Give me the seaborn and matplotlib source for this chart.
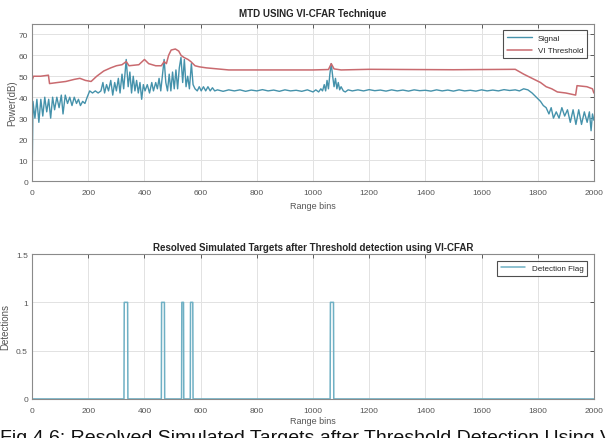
import numpy as np
import pandas as pd
import matplotlib
matplotlib.use("Agg")
import matplotlib.pyplot as plt
import seaborn as sns

# ---------------- data ----------------
signal_x = [0, 3, 10, 17, 24, 31, 38, 45, 52, 59, 66, 73, 80, 88, 96, 104, 110, 118, 126, 134,
            142, 150, 158, 165, 172, 180, 188, 196, 205, 215, 225, 235, 245, 252, 258, 265, 272,
            280, 287, 294, 300, 307, 313, 320, 326, 335, 342, 348, 354, 360, 366, 372, 378, 384,
            390, 396, 402, 410, 418, 426, 432, 440, 446, 452, 458, 465, 470, 476, 482, 488, 494,
            500, 506, 512, 518, 524, 530, 536, 542, 548, 554, 560, 567, 573, 580, 588, 595, 602,
            610, 618, 626, 634, 642, 650, 660, 680, 700, 720, 740, 760, 780, 800, 820, 840, 860,
            880, 900, 920, 940, 960, 980, 1000, 1010, 1020, 1028, 1034, 1040, 1045, 1050, 1055,
            1060, 1065, 1070, 1075, 1080, 1085, 1090, 1095, 1100, 1108, 1115, 1125, 1140, 1160,
            1180, 1200, 1220, 1240, 1260, 1280, 1300, 1320, 1340, 1360, 1380, 1400, 1420, 1440,
            1460, 1480, 1500, 1520, 1540, 1560, 1580, 1600, 1620, 1640, 1660, 1680, 1700, 1720,
            1735, 1750, 1765, 1780, 1795, 1810, 1820, 1830, 1840, 1848, 1856, 1866, 1876, 1886,
            1896, 1906, 1916, 1926, 1936, 1946, 1956, 1966, 1976, 1984, 1990, 1995, 2000]
signal_y = [0, 38, 30, 39, 28, 39, 31, 40, 33, 39, 30, 40, 34, 40, 35, 41, 32, 41, 37, 40,
            36, 40, 37, 39, 36, 38, 37, 40, 43, 42, 43, 42, 43, 47, 42, 46, 43,
            48, 41, 47, 43, 49, 42, 51, 44, 58, 45, 52, 42, 50, 43, 48, 42, 47,
            39, 46, 43, 46, 42, 47, 43, 47, 44, 49, 43, 52, 58, 47, 43, 51, 43,
            52, 44, 53, 44, 54, 59, 47, 58, 45, 50, 44, 56, 46, 44, 43, 45, 43,
            45, 43, 45, 43, 44.5, 43, 43.5, 42.8, 43.5, 43, 43.5, 42.8, 43.4, 43, 43.6, 43, 43.4,
            42.8, 43.5, 43, 43.3, 42.8, 43.5, 42.5, 43.5, 42.5, 44, 43, 46, 43, 48, 44,
            51, 56, 50, 45, 49, 44, 47, 43.5, 45, 43, 42.5, 43.5, 43, 43.5,
            43, 43.6, 43.1, 43.4, 42.9, 43.5, 43, 43.4, 42.9, 43.5, 43.1, 43.3, 42.9, 43.5,
            43, 43.4, 42.9, 43.5, 43, 43.3, 42.9, 43.5, 43, 43.4, 43, 43.6, 43.2, 43.5,
            43, 44, 43.5, 42, 40, 38, 36, 35, 32, 35, 30, 33, 30, 35,
            31, 34, 28, 34, 27, 34, 27, 33, 28, 33, 24, 32, 29]

thresh_x = [0, 5, 30, 58, 62, 90, 120, 150, 170, 190, 210, 230, 255, 280, 300, 320, 335, 345,
            380, 400, 415, 440, 460, 470, 478, 486, 495, 510, 522, 530, 540, 555, 565, 580, 595,
            620, 660, 700, 1000, 1055, 1065, 1075, 1100, 1200, 1500, 1720, 1750, 1780, 1810,
            1830, 1850, 1870, 1900, 1935, 1940, 1975, 1995, 2000]
thresh_y = [48, 50, 50, 50.5, 46.5, 47, 47.5, 48.5, 49, 48, 47.5, 50, 52.5, 54, 55, 55.5, 57, 55,
            55.5, 58, 56, 55, 55, 57, 56, 60, 62.5, 63, 62, 60, 59, 58, 57, 55, 54.5,
            54, 53.5, 53, 53, 53.2, 56, 53.5, 53, 53.3, 53.1, 53.3, 51, 49, 47,
            45, 44, 42.5, 42, 41, 45.5, 45, 44, 42]

target_start = [328, 461, 533, 564, 1062]
target_end = [340, 471, 539, 572, 1073]
n_bins = 2001

xticks = list(range(0, 2001, 200))
top_yticks = list(range(0, 71, 10))
bot_yticks = [0, 0.5, 1, 1.5]
bot_yticklabels = ["0", "0.5", "1", "1.5"]

# detection flag from target bin ranges
flag = np.zeros(n_bins)
for s, e in zip(target_start, target_end):
    flag[s:e + 1] = 1
det_df = pd.DataFrame({"bin": np.arange(n_bins), "flag": flag})
sig_df = pd.DataFrame({"bin": signal_x, "power": signal_y})
thr_df = pd.DataFrame({"bin": thresh_x, "power": thresh_y})

# ---------------- style ----------------
sns.set_theme(style="whitegrid")
plt.rcParams["font.family"] = ["Liberation Sans Narrow", "Liberation Sans", "DejaVu Sans"]

sig_color = "#4592ab"
thr_color = "#c96a6f"
det_color = "#6fb0c4"
grid_color = "#e2e2e2"
frame_color = "#8a8a8a"
tick_color = "#555555"

fig = plt.figure(figsize=(6.06, 4.39), dpi=100)
ax1 = fig.add_axes([0.053, 0.5854, 0.927, 0.358])
ax2 = fig.add_axes([0.053, 0.089, 0.927, 0.330])

sns.lineplot(data=sig_df, x="bin", y="power", ax=ax1, color=sig_color, lw=1.0,
             label="Signal", estimator=None)
sns.lineplot(data=thr_df, x="bin", y="power", ax=ax1, color=thr_color, lw=1.1,
             label="VI Threshold", estimator=None)
sns.lineplot(data=det_df, x="bin", y="flag", ax=ax2, color=det_color, lw=1.1,
             label="Detection Flag", estimator=None)

for ax in (ax1, ax2):
    ax.set_xlim(0, 2000)
    ax.set_xticks(xticks)
    ax.grid(True, color=grid_color, lw=0.7)
    for sp in ax.spines.values():
        sp.set_color(frame_color)
        sp.set_linewidth(0.8)
    ax.tick_params(axis="both", direction="in", length=3, width=0.6, color="#444444",
                   labelsize=6, labelcolor=tick_color, top=True, right=True)
    ax.tick_params(axis="x", pad=5.5)
    ax.tick_params(axis="y", pad=3)
    leg = ax.legend(loc="upper right", fontsize=5.8, frameon=True, fancybox=False,
                    borderpad=0.5, handlelength=3.0, labelspacing=0.6,
                    borderaxespad=0.8)
    leg.get_frame().set_edgecolor("#222222")
    leg.get_frame().set_linewidth(0.8)

ax1.set_xlabel("Range bins", fontsize=6.5, color="#555555", labelpad=4)
ax2.set_xlabel("Range bins", fontsize=6.5, color="#555555", labelpad=2)

ax1.set_ylim(0, 75)
ax1.set_yticks(top_yticks)
ax1.set_ylabel("Power(dB)", fontsize=7, color="#555555", labelpad=1)
ax1.set_title("MTD USING VI-CFAR Technique", fontsize=7, fontweight="bold", pad=6)

ax2.set_ylim(0, 1.5)
ax2.set_yticks(bot_yticks)
ax2.set_yticklabels(bot_yticklabels)
ax2.set_ylabel("Detections", fontsize=7, color="#555555", labelpad=4)
ax2.set_title("Resolved Simulated Targets after Threshold detection using VI-CFAR",
              fontsize=7, fontweight="bold", pad=3)

fig.text(0.0, 0.0205, "Fig 4.6: Resolved Simulated Targets after Threshold Detection Using VI-CFAR",
         fontsize=14, va="top", ha="left", color="#111111",
         family=["Liberation Sans", "DejaVu Sans"])

fig.savefig("out.png", dpi=100)
